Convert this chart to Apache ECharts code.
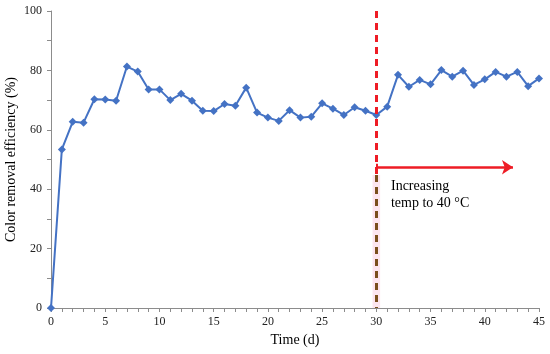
<!DOCTYPE html>
<html>
<head>
<meta charset="utf-8">
<script src="https://cdn.jsdelivr.net/npm/echarts@6/dist/echarts.min.js"></script>
<style>html,body{margin:0;padding:0;background:#fff}#c{width:550px;height:354px}</style>
</head>
<body>
<div id="c"></div>
<script>
const days = [0,1,2,3,4,5,6,7,8,9,10,11,12,13,14,15,16,17,18,19,20,21,22,23,24,25,26,27,28,29,30,31,32,33,34,35,36,37,38,39,40,41,42,43,44,45];
const efficiency = [0,53.4,62.7,62.4,70.3,70.2,69.8,81.3,79.6,73.6,73.6,70.0,72.1,69.8,66.4,66.3,68.7,68.1,74.2,65.8,64.1,63.0,66.6,64.1,64.4,68.9,67.1,65.0,67.6,66.4,65.0,67.8,78.5,74.5,76.8,75.3,80.1,77.9,79.9,75.1,77.0,79.5,77.9,79.5,74.7,77.3];
const xTicks = [0,5,10,15,20,25,30,35,40,45];
const yTicks = [0,20,40,60,80,100];
const changeDay = 30;
const splitLevel = 44.8;
const arrowLevel = 47.4;
const arrowEnd = 42.6;
const noteText = 'Increasing\ntemp to 40 °C';
const notePos = [31.35, 38.2];

const serif = "'Liberation Serif','Times New Roman',serif";
const chart = echarts.init(document.getElementById('c'));
const pts = days.map((d,i)=>[d, efficiency[i]]);

chart.setOption({
  animation:false,
  grid:{left:51,right:11,top:11,bottom:46,containLabel:false,outerBoundsMode:'none'},
  xAxis:{
    type:'value', min:0, max:45, interval:5,
    name:'Time (d)', nameLocation:'middle', nameGap:25, nameMoveOverlap:false,
    nameTextStyle:{fontFamily:serif,fontSize:14,color:'#000'},
    axisLine:{lineStyle:{color:'#8c8c8c',width:1}},
    axisTick:{show:true,inside:false,length:4,lineStyle:{color:'#8c8c8c'}},
    minorTick:{show:true,splitNumber:5,length:4,lineStyle:{color:'#8c8c8c'}},
    axisLabel:{fontFamily:serif,fontSize:12,color:'#222',margin:8,
      formatter:v=>xTicks.includes(v)?String(v):''},
    splitLine:{show:false}
  },
  yAxis:{
    type:'value', min:0, max:100, interval:20,
    name:'Color removal efficiency (%)', nameLocation:'middle', nameGap:33, nameMoveOverlap:false,
    nameTextStyle:{fontFamily:serif,fontSize:14,color:'#000'},
    axisLine:{show:true,lineStyle:{color:'#8c8c8c',width:1}},
    axisTick:{show:true,inside:false,length:4,lineStyle:{color:'#8c8c8c'}},
    minorTick:{show:true,splitNumber:2,length:4,lineStyle:{color:'#8c8c8c'}},
    axisLabel:{fontFamily:serif,fontSize:12,color:'#222',margin:9,
      formatter:v=>yTicks.includes(v)?String(v):''},
    splitLine:{show:false}
  },
  series:[
    {
      type:'line', data:[], z:1, silent:true,
      markArea:{
        silent:true,
        itemStyle:{color:'rgba(252,225,236,0.85)'},
        data:[[{coord:[changeDay-0.35,0]},{coord:[changeDay+0.35,splitLevel]}]]
      },
      markLine:{
        silent:true, symbol:'none', symbolSize:11, animation:false,
        label:{show:false},
        data:[
          [{coord:[changeDay,100],lineStyle:{color:'#ee1c25',width:3,type:[7,5]}},{coord:[changeDay,splitLevel]}],
          [{coord:[changeDay,splitLevel],lineStyle:{color:'#7a4e1c',width:3,type:[7,5]}},{coord:[changeDay,0]}],
          [{coord:[changeDay,arrowLevel],symbol:'none',lineStyle:{color:'#ee1c25',width:2.5,type:'solid'}},{coord:[arrowEnd,arrowLevel],symbol:'arrow',symbolSize:11}],
          [{coord:[changeDay,arrowLevel-1.2],lineStyle:{color:'#ee1c25',width:2,type:'solid'}},{coord:[changeDay,arrowLevel+1.2]}]
        ]
      },
      markPoint:{
        silent:true,
        symbol:'circle', symbolSize:0,
        label:{show:true,position:'right',distance:0,align:'left',verticalAlign:'middle',
          fontFamily:serif,fontSize:14,lineHeight:17,color:'#000',formatter:noteText},
        data:[{coord:notePos}]
      }
    },
    {
      type:'line', data:pts, z:3,
      symbol:'diamond', symbolSize:8,
      lineStyle:{color:'#4472c4',width:2},
      itemStyle:{color:'#4472c4'}
    }
  ]
});
</script>
</body>
</html>
